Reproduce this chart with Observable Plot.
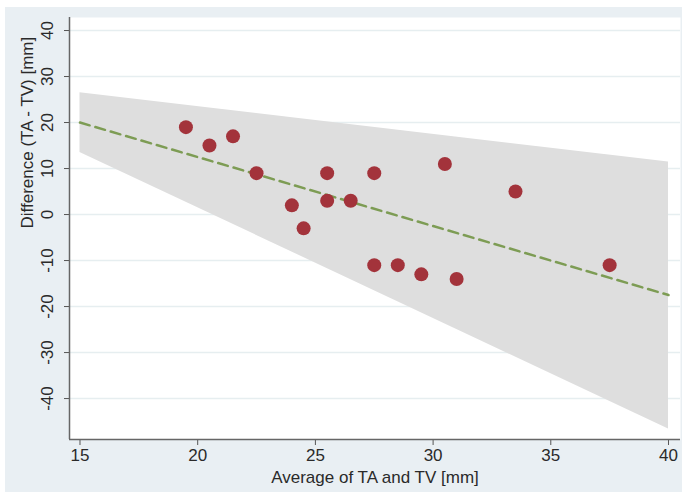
<!DOCTYPE html>
<html>
<head>
<meta charset="utf-8">
<script src="https://cdn.jsdelivr.net/npm/d3@7"></script>
<script src="https://cdn.jsdelivr.net/npm/@observablehq/plot@0.6"></script>
<style>
  html, body { margin: 0; padding: 0; background: #ffffff; }
  #chart svg { display: block; }
</style>
</head>
<body>
<div id="chart"></div>
<script>
// Data
const avgX  = [19.5, 20.5, 21.5, 22.5, 24, 24.5, 25.5, 25.5, 26.5, 27.5, 27.5, 28.5, 29.5, 30.5, 31, 33.5, 37.5];
const diffY = [19, 15, 17, 9, 2, -3, 9, 3, 3, 9, -11, -11, -13, 11, -14, 5, -11];

// Regression line
const lineX = [15, 40];
const lineY = [20, -17.5];

// Limits band
const bandX     = [15, 40];
const bandLower = [13.5, -46.6];
const bandUpper = [26.5, 11.4];

const xTicks = [15, 20, 25, 30, 35, 40];
const yTicks = [40, 30, 20, 10, 0, -10, -20, -30, -40];

const points = avgX.map((x, i) => ({x, y: diffY[i]}));
const line = lineX.map((x, i) => ({x, y: lineY[i]}));
const band = bandX.map((x, i) => ({x, y1: bandLower[i], y2: bandUpper[i]}));

const font = "'Liberation Sans', Arial, Helvetica, sans-serif";

const chart = Plot.plot({
  width: 689,
  height: 497,
  marginLeft: 69,
  marginRight: 9,
  marginTop: 17,
  marginBottom: 58,
  style: {
    fontFamily: font,
    fontSize: "17px",
    color: "#2a2a2a",
    background: "linear-gradient(#e9eff3, #e9eff3) no-repeat 5px 7px / 677px 485px"
  },
  x: {domain: [14.554, 40.51]},
  y: {domain: [-48.9, 42.83]},
  marks: [
    Plot.frame({fill: "#ffffff", stroke: null}),
    Plot.gridY(yTicks, {stroke: "#e6eef0", strokeOpacity: 1, strokeWidth: 1.5}),
    Plot.areaY(band, {x: "x", y1: "y1", y2: "y2", fill: "#dedede", fillOpacity: 1}),
    Plot.line(line, {x: "x", y: "y", stroke: "#7d9c54", strokeWidth: 2.5, strokeDasharray: "10,6"}),
    Plot.dot(points, {x: "x", y: "y", r: 7, fill: "#a3333b", stroke: null}),
    Plot.axisX({ticks: xTicks, tickSize: 6, tickPadding: 3, stroke: "#555", fill: "#2a2a2a", fontSize: 17, label: null}),
    Plot.axisY({ticks: yTicks, tickSize: 5, tickFormat: () => "", stroke: "#555", label: null}),
    Plot.ruleY([-48.9], {stroke: "#666", strokeWidth: 1.5}),
    Plot.ruleX([14.554], {stroke: "#666", strokeWidth: 1.5}),
    Plot.text(yTicks, {x: 14.554, y: d => d, text: d => String(d), rotate: -90, dx: -22, fill: "#2a2a2a", fontSize: 17, textAnchor: "middle"}),
    Plot.text(["Average of TA and TV [mm]"], {frameAnchor: "bottom", dy: 43, fill: "#2a2a2a", fontSize: 17}),
    Plot.text(["Difference (TA - TV) [mm]"], {frameAnchor: "left", dx: -42, rotate: -90, fill: "#2a2a2a", fontSize: 17})
  ]
});

document.getElementById("chart").appendChild(chart);
</script>
</body>
</html>
